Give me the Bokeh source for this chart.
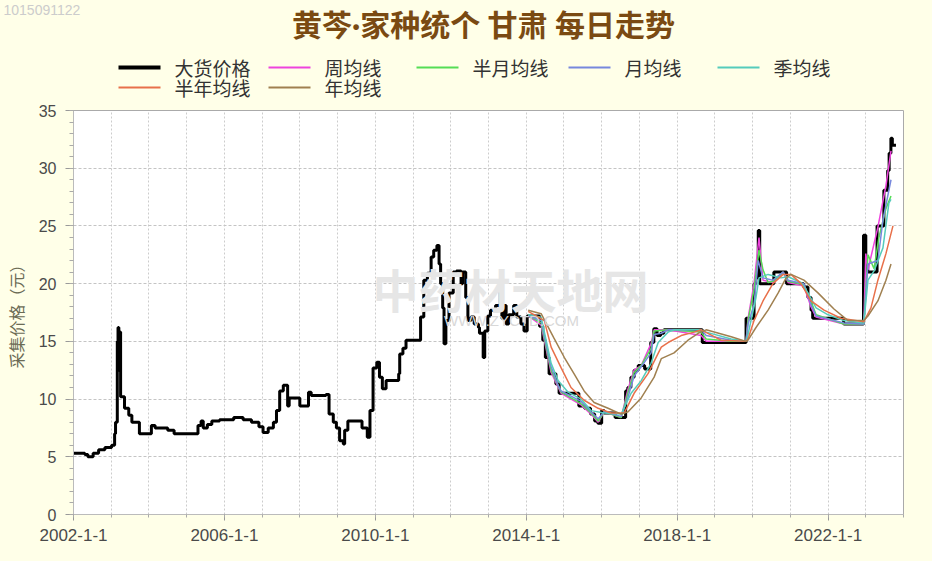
import pandas as pd
from bokeh.plotting import figure
from bokeh.core.properties import value
from bokeh.models import (ColumnDataSource, Label, FixedTicker, DatetimeTickFormatter, Range1d)
from bokeh.embed import file_html
from bokeh.resources import INLINE

# ---------------- data ----------------
price_dates = [
    "2002-01-01", "2002-04-20", "2002-05-20", "2002-07-10", "2002-09-01", "2002-11-01",
    "2003-01-05", "2003-02-03", "2003-02-12", "2003-03-01", "2003-03-08", "2003-03-16",
    "2003-03-22", "2003-04-02", "2003-05-10", "2003-06-20", "2003-07-20", "2003-10-01",
    "2004-01-25", "2004-03-01", "2004-07-01", "2004-09-01", "2005-04-20", "2005-05-20",
    "2005-06-10", "2005-07-20", "2005-09-01", "2005-11-15", "2006-04-01", "2006-07-01",
    "2006-09-20", "2006-12-01", "2007-01-10", "2007-03-01", "2007-04-20", "2007-05-20",
    "2007-06-20", "2007-07-25", "2007-09-05", "2007-09-20", "2008-01-01", "2008-03-25",
    "2008-04-20", "2008-09-10", "2008-10-10", "2008-11-20", "2008-12-20", "2009-01-20",
    "2009-02-25", "2009-03-10", "2009-04-10", "2009-08-25", "2009-10-15", "2009-11-10",
    "2009-12-10", "2010-01-15", "2010-02-10", "2010-03-10", "2010-04-15", "2010-08-15",
    "2010-08-25", "2010-09-25", "2010-10-25", "2011-03-15", "2011-04-15", "2011-05-20",
    "2011-06-25", "2011-07-20", "2011-08-20", "2011-09-10", "2011-09-25", "2011-10-15",
    "2011-10-28", "2011-11-15", "2011-12-15", "2012-01-25", "2012-02-25", "2012-04-10",
    "2012-04-25", "2012-05-25", "2012-06-15", "2012-07-15", "2012-08-15", "2012-09-25",
    "2012-10-05", "2012-11-10", "2012-11-25", "2012-12-25", "2013-01-20", "2013-03-10",
    "2013-04-25", "2013-05-10", "2013-06-01", "2013-06-20", "2013-07-15", "2013-09-01",
    "2013-10-01", "2013-11-10", "2013-12-10", "2014-01-10", "2014-05-10", "2014-06-10",
    "2014-07-05", "2014-08-10", "2014-10-15", "2014-11-15", "2015-05-25", "2015-07-20",
    "2015-09-15", "2015-10-25", "2015-11-25", "2016-01-01", "2016-01-25", "2016-05-10",
    "2016-08-20", "2016-09-10", "2016-10-10", "2016-11-10", "2016-12-20", "2017-02-20",
    "2017-04-20", "2017-05-20", "2017-06-20", "2017-07-25", "2017-08-25", "2018-09-01",
    "2019-10-30", "2020-01-15", "2020-02-01", "2020-02-25", "2020-03-10", "2020-07-25",
    "2020-11-25", "2021-05-10", "2021-06-20", "2021-07-20", "2021-08-05", "2022-06-01",
    "2022-12-10", "2023-01-01", "2023-01-20", "2023-04-20", "2023-06-25", "2023-08-01",
    "2023-08-15", "2023-09-01", "2023-09-15", "2023-10-20",
]
price_vals = [
    5.3, 5.2, 5.0, 5.3, 5.6, 5.8,
    6.0, 7.0, 8.0, 15.0, 16.2, 12.5,
    15.8, 10.2, 9.2, 8.6, 8.0, 7.0,
    7.7, 7.5, 7.3, 7.0, 7.7, 8.1,
    7.5, 7.8, 8.1, 8.2, 8.4, 8.2,
    8.0, 7.6, 7.1, 7.5, 8.0, 9.0,
    10.7, 11.2, 9.4, 10.1, 9.4, 10.6,
    10.3, 10.4, 8.7, 8.0, 7.5, 6.4,
    6.1, 7.3, 8.1, 7.5, 6.7, 9.0,
    12.7, 13.2, 11.9, 10.9, 11.6, 12.2,
    13.9, 14.4, 15.1, 17.1, 20.3, 20.9,
    22.3, 22.9, 23.3, 21.7, 20.0, 17.9,
    14.8, 16.8, 19.2, 21.0, 21.1, 20.0,
    21.0, 18.8, 16.8, 17.1, 16.5, 16.2,
    15.7, 13.6, 15.9, 17.2, 17.7, 18.1,
    19.4, 17.0, 18.1, 16.5, 17.3, 18.1,
    17.1, 16.5, 15.9, 17.2, 16.3, 15.1,
    13.6, 12.2, 11.3, 10.5, 9.4, 9.2,
    8.7, 8.1, 7.9, 9.0, 8.8, 8.4,
    10.7, 11.0, 11.9, 12.5, 12.9, 12.6,
    14.9, 16.1, 15.5, 15.7, 16.0, 14.9,
    17.0, 20.0, 20.5, 24.6, 20.0, 21.0,
    20.0, 19.7, 18.8, 17.7, 17.0, 16.5,
    24.2, 21.7, 21.0, 25.0, 28.1, 29.8,
    31.3, 32.6, 32.0, 32.0,
]

week_dates = ["2014-01-20", "2014-05-25", "2014-08-30", "2014-12-05", "2015-06-15", "2015-09-20",
              "2015-11-28", "2016-01-25", "2016-07-08", "2016-09-13", "2016-11-10", "2017-01-18",
              "2017-04-23", "2017-05-23", "2017-10-05", "2018-08-21", "2018-10-09", "2019-10-30",
              "2019-11-18", "2020-01-15", "2020-03-03", "2020-04-11", "2020-07-16", "2020-10-23",
              "2020-12-10", "2021-05-12", "2021-07-19", "2021-09-07", "2022-06-03", "2022-12-13",
              "2023-01-01", "2023-01-22", "2023-04-28", "2023-07-15", "2023-09-02"]
week_vals = [17.2, 16.4, 12.3, 10.5, 9.5, 8.7,
             8.0, 8.9, 8.4, 10.9, 12.5, 12.9,
             14.8, 16.0, 16.0, 15.5, 15.0, 15.0,
             17.0, 20.0, 24.0, 20.3, 20.1, 21.0,
             20.1, 19.8, 18.0, 17.1, 16.5, 16.5,
             22.6, 21.2, 24.9, 28.5, 31.5]

half_month_dates = ["2014-01-20", "2014-05-25", "2014-08-30", "2014-12-05", "2015-06-15", "2015-09-20",
                    "2015-11-28", "2016-01-25", "2016-07-08", "2016-09-13", "2016-11-10", "2017-01-18",
                    "2017-04-23", "2017-05-23", "2017-10-05", "2018-08-21", "2018-10-09", "2019-06-08",
                    "2019-10-30", "2019-11-18", "2020-01-15", "2020-03-03", "2020-04-11", "2020-05-30",
                    "2020-07-16", "2020-10-23", "2020-12-10", "2021-05-12", "2021-07-19", "2021-09-07",
                    "2022-06-03", "2022-12-13", "2023-01-22", "2023-03-22", "2023-05-08", "2023-07-15",
                    "2023-09-02"]
half_month_vals = [17.2, 16.6, 12.5, 10.6, 9.6, 8.8,
                   8.1, 8.9, 8.4, 10.6, 12.3, 12.9,
                   14.4, 15.9, 16.0, 15.8, 15.2, 15.0,
                   15.0, 16.8, 19.5, 22.9, 21.2, 20.1,
                   20.2, 21.0, 20.2, 19.9, 18.5, 17.3,
                   16.5, 16.5, 22.5, 21.3, 24.0, 26.5,
                   27.6]

month_dates = ["2014-01-20", "2014-05-25", "2014-08-30", "2014-11-05", "2014-12-05", "2015-06-15",
               "2015-09-20", "2015-11-28", "2016-01-25", "2016-07-08", "2016-09-13", "2016-11-10",
               "2017-01-18", "2017-04-23", "2017-05-23", "2017-07-31", "2017-10-05", "2018-08-21",
               "2018-10-09", "2019-06-08", "2019-10-30", "2019-11-18", "2020-01-15", "2020-02-24",
               "2020-04-11", "2020-07-16", "2020-10-23", "2020-12-10", "2021-05-12", "2021-07-19",
               "2021-09-07", "2022-06-03", "2022-12-13", "2023-01-22", "2023-04-28", "2023-06-16",
               "2023-09-02"]
month_vals = [17.2, 16.8, 12.8, 11.2, 10.7, 9.8,
              8.9, 8.3, 8.9, 8.5, 10.2, 12.0,
              12.8, 14.0, 15.6, 15.7, 16.0, 16.0,
              15.5, 15.1, 15.0, 16.5, 18.2, 22.0,
              20.5, 20.3, 21.0, 20.3, 20.0, 18.2,
              17.2, 16.6, 16.5, 21.7, 22.0, 25.5,
              29.0]

quarter_dates = ["2014-01-20", "2014-05-25", "2014-08-30", "2014-11-05", "2015-02-10", "2015-06-15",
                 "2015-09-20", "2016-01-25", "2016-07-08", "2016-10-12", "2017-01-18", "2017-04-23",
                 "2017-07-01", "2017-10-05", "2017-12-02", "2018-08-21", "2018-10-09", "2019-06-08",
                 "2019-10-30", "2019-11-18", "2020-02-03", "2020-03-03", "2020-05-30", "2020-10-02",
                 "2020-12-10", "2021-04-14", "2021-06-20", "2021-09-07", "2022-01-01", "2022-06-03",
                 "2022-12-13", "2023-01-22", "2023-03-22", "2023-06-16", "2023-08-13", "2023-09-02"]
quarter_vals = [17.3, 17.1, 13.1, 11.6, 10.6, 10.0,
                9.0, 8.8, 8.7, 10.5, 11.6, 13.1,
                14.9, 15.8, 16.0, 16.0, 15.8, 15.2,
                15.0, 15.6, 18.8, 20.5, 20.8, 20.5,
                20.6, 20.1, 19.2, 17.9, 17.3, 16.8,
                16.6, 20.3, 21.1, 23.1, 27.0, 27.3]

half_year_dates = ["2014-01-20", "2014-06-25", "2014-08-30", "2014-12-05", "2015-03-10", "2015-07-15",
                   "2015-11-28", "2016-04-01", "2016-08-07", "2016-11-10", "2017-03-25", "2017-07-31",
                   "2017-10-05", "2018-02-09", "2018-06-14", "2018-08-21", "2019-03-01", "2019-10-30",
                   "2019-11-18", "2020-01-15", "2020-04-11", "2020-07-16", "2020-10-23", "2021-01-07",
                   "2021-04-14", "2021-07-19", "2021-11-23", "2022-05-05", "2022-12-13", "2023-02-20",
                   "2023-04-28", "2023-07-15", "2023-09-21"]
half_year_vals = [17.6, 16.8, 14.5, 12.7, 11.0, 9.9,
                  9.2, 8.8, 8.8, 10.5, 12.2, 14.5,
                  14.9, 15.5, 15.8, 16.0, 15.1, 15.0,
                  15.2, 16.8, 18.5, 20.0, 20.8, 20.8,
                  20.0, 18.5, 17.7, 17.0, 16.7, 17.9,
                  20.3, 22.6, 25.0]

year_dates = ["2014-01-20", "2014-05-25", "2014-09-25", "2015-01-05", "2015-04-08", "2015-07-15",
              "2015-10-20", "2016-03-03", "2016-07-08", "2016-09-13", "2017-01-18", "2017-05-23",
              "2017-07-31", "2017-12-02", "2018-04-16", "2018-07-23", "2018-10-09", "2019-06-08",
              "2019-10-30", "2019-11-18", "2020-02-03", "2020-05-30", "2020-09-05", "2020-11-20",
              "2021-01-07", "2021-05-12", "2021-09-25", "2022-02-27", "2022-07-13", "2022-12-13",
              "2023-01-22", "2023-04-28", "2023-07-15", "2023-09-02"]
year_vals = [17.7, 17.4, 15.3, 13.6, 12.2, 10.7,
             9.7, 9.2, 8.7, 8.9, 10.1, 11.9,
             13.5, 14.0, 15.1, 15.7, 16.0, 15.4,
             15.0, 15.1, 16.2, 17.7, 19.2, 20.5,
             20.8, 20.3, 19.2, 17.8, 16.8, 16.8,
             17.2, 18.5, 20.3, 21.7]

y_ticks = [0, 5, 10, 15, 20, 25, 30, 35]
x_tick_years = [2002, 2006, 2010, 2014, 2018, 2022]

series_names = ["大货价格", "周均线", "半月均线", "月均线", "季均线", "半年均线", "年均线"]
series_colors = ["black", "#EE44DD", "#55DD55", "#7788DD", "#55CCBB", "#E8704A", "#A08050"]

# ---------------- layout constants (page pixels; page margin set to 0) ----------------
W = 932
HEAD_H = 100
BG = "#FFFFE8"
legend_x0 = [118, 268, 416, 568, 717, 118, 268]   # sample line start (px)
legend_row = [33, 33, 33, 33, 33, 13, 13]          # row centre (px from header bottom)
legend_lw = [4, 2, 2, 2, 2, 2, 2]
SAMPLE_LEN = 42
TEXT_GAP = 56


def ms(s):
    return pd.Timestamp(s).value // 10**6


# ---------------- header (title + legend) ----------------
head = figure(width=W, height=HEAD_H, output_backend="svg", toolbar_location=None,
              x_range=Range1d(0, W), y_range=Range1d(0, HEAD_H),
              min_border=0, x_axis_location=None, y_axis_location=None)
head.background_fill_color = BG
head.border_fill_color = BG
head.outline_line_color = None
head.grid.visible = False

head.add_layout(Label(x=483, y=77, text="黄芩·家种统个 甘肃 每日走势", text_align="center",
                      text_baseline="middle", text_font="Lato, Noto Sans CJK SC",
                      text_font_size="30px", text_font_style="bold", text_color="#7A4A12"))
head.add_layout(Label(x=3, y=91, text="1015091122", text_align="left", text_baseline="middle",
                      text_font="Liberation Sans", text_font_size="14px", text_color="#cccccc"))

leg_src = ColumnDataSource(dict(
    x0=legend_x0, x1=[x + SAMPLE_LEN for x in legend_x0], y=legend_row,
    tx=[x + TEXT_GAP for x in legend_x0], name=series_names, color=series_colors, lw=legend_lw))
head.segment("x0", "y", "x1", "y", source=leg_src, line_color="color", line_width="lw")
head.text("tx", "y", text="name", source=leg_src, text_baseline="middle", text_align="left",
          text_font=value("Noto Sans CJK SC"), text_font_size=value("19px"), text_color="#333333")

# ---------------- main chart ----------------
p = figure(width=W, height=561 - HEAD_H, output_backend="svg", toolbar_location=None,
           x_axis_type="datetime",
           x_range=Range1d(ms("2002-01-01"), ms("2024-01-01")),
           y_range=Range1d(0, 35),
           min_border_left=72, min_border_right=29, min_border_top=10, min_border_bottom=47)
p.background_fill_color = "white"
p.border_fill_color = BG
p.outline_line_color = "#aaaaaa"

# watermark
p.add_layout(Label(x=437, y=227, x_units="screen", y_units="screen", text="中药材天地网",
                   text_align="center", text_baseline="middle", text_font="Noto Sans CJK SC",
                   text_font_size="46px", text_color="#e6e6e6", text_font_style="bold"))
p.add_layout(Label(x=438, y=194, x_units="screen", y_units="screen", text="WWW.ZYCTD.COM",
                   text_align="center", text_baseline="middle", text_font="Liberation Sans",
                   text_font_size="15px", text_color="#d8d8d8"))

price_src = ColumnDataSource(dict(x=pd.to_datetime(price_dates), y=price_vals))
p.step("x", "y", source=price_src, mode="after", line_color=series_colors[0], line_width=3)

ma_data = [(week_dates, week_vals), (half_month_dates, half_month_vals),
           (month_dates, month_vals), (quarter_dates, quarter_vals),
           (half_year_dates, half_year_vals), (year_dates, year_vals)]
for (d, v), c in zip(ma_data, series_colors[1:]):
    src = ColumnDataSource(dict(x=pd.to_datetime(d), y=v))
    p.line("x", "y", source=src, line_color=c, line_width=1.5)

# axes
p.xaxis.ticker = FixedTicker(ticks=[ms(f"{y}-01-01") for y in x_tick_years],
                             minor_ticks=[ms(f"{y}-01-01") for y in range(2002, 2025)])
fmt = "%Y-1-1"
p.xaxis.formatter = DatetimeTickFormatter(years=fmt, months=fmt, days=fmt, hours=fmt,
                                          hourmin=fmt, minutes=fmt, minsec=fmt, seconds=fmt)
p.yaxis.ticker = FixedTicker(ticks=y_ticks, minor_ticks=list(range(0, 36)))
p.yaxis.axis_label = "采集价格（元）"
p.yaxis.axis_label_text_font = "Noto Sans CJK SC"
p.yaxis.axis_label_text_font_size = "16px"
p.yaxis.axis_label_text_font_style = "normal"
p.yaxis.axis_label_text_color = "#6b6b55"
p.yaxis.axis_label_standoff = 8

for ax in (p.xaxis, p.yaxis):
    ax.axis_line_color = "#bbbbbb"
    ax.major_tick_line_color = "#999999"
    ax.minor_tick_line_color = "#aaaaaa"
    ax.major_tick_in = 0
    ax.minor_tick_in = 0
    ax.major_label_text_font = "Liberation Sans"
    ax.major_label_text_color = "#4a4a4a"
p.xaxis.major_tick_out = 6
p.xaxis.minor_tick_out = 3
p.yaxis.major_tick_out = 8
p.yaxis.minor_tick_out = 4
p.xaxis.major_label_text_font_size = "17px"
p.yaxis.major_label_text_font_size = "16px"
p.xaxis.major_label_standoff = 8
p.yaxis.major_label_standoff = 9

p.xgrid.ticker = FixedTicker(ticks=[ms(f"{y}-01-01") for y in range(2002, 2025)])
p.xgrid.grid_line_color = "#cccccc"
p.xgrid.grid_line_dash = "2 2"
p.ygrid.grid_line_color = "#c4c4c4"
p.ygrid.grid_line_dash = "3 2"

html = file_html([head, p], INLINE)
html = html.replace("<body>", f'<body style="background:{BG};margin:0;overflow:hidden">')
open("out.html", "w").write(html)
